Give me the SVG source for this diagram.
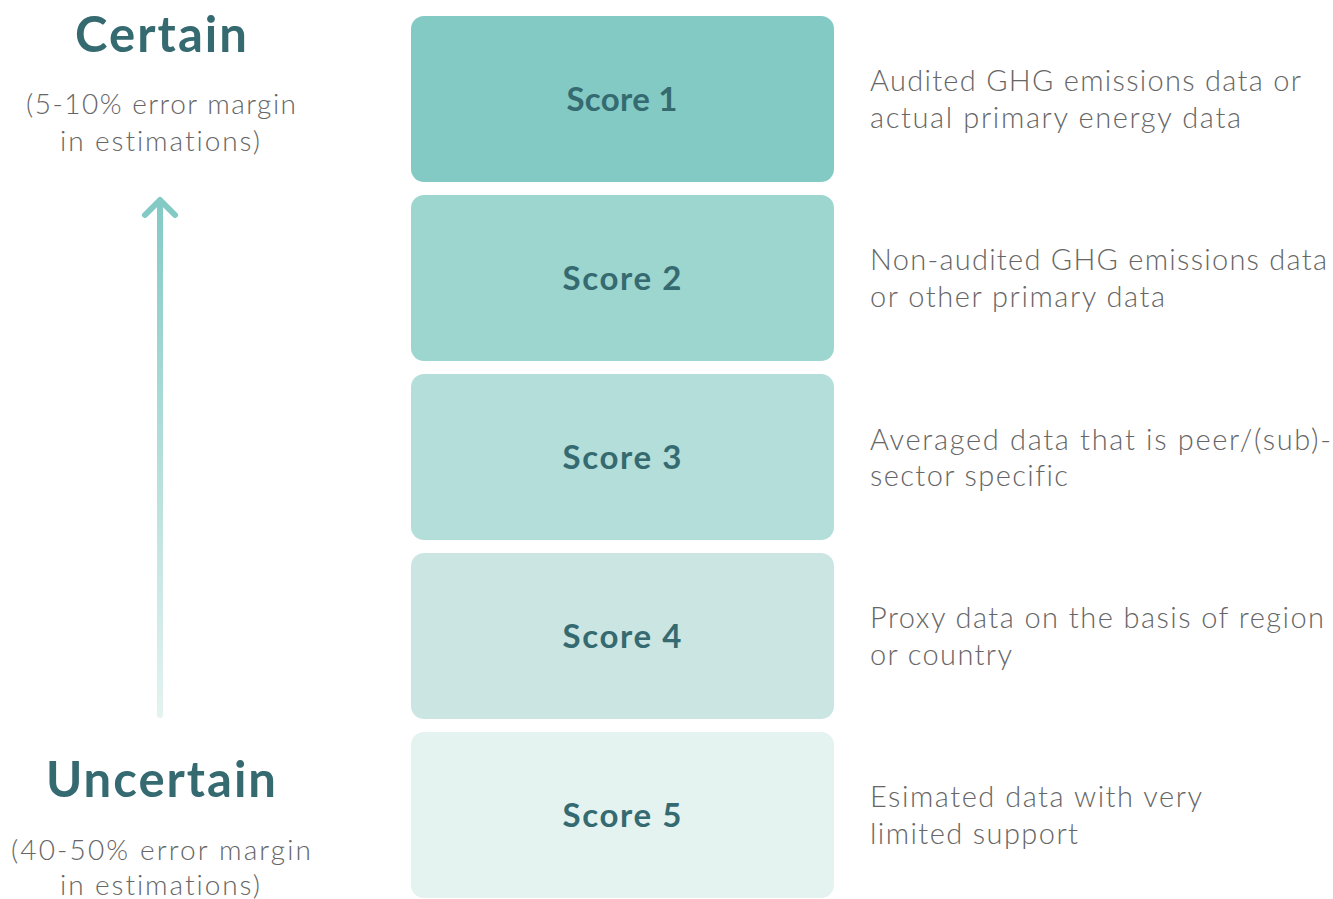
<svg xmlns="http://www.w3.org/2000/svg" width="1333" height="899" viewBox="0 0 1333 899">
<style>
text{font-variant-ligatures:none}
.box{stroke:none}
.score{font-family:Lato,"Noto Sans",sans-serif;font-weight:bold;font-size:33px;fill:#356a70;text-anchor:middle}
.desc{font-family:Lato,"Noto Sans",sans-serif;font-weight:300;font-size:29px;fill:#666}
.big{font-family:Lato,"Noto Sans",sans-serif;font-weight:bold;font-size:49px;fill:#356a70;text-anchor:middle}
.sub{font-family:Lato,"Noto Sans",sans-serif;font-weight:300;font-size:28px;fill:#666;text-anchor:middle}
</style>
<defs>
<linearGradient id="ag" x1="0" y1="0" x2="0" y2="1">
<stop offset="0" stop-color="#83cac5"/>
<stop offset="1" stop-color="#e4f3f0"/>
</linearGradient>
</defs>
<rect width="1333" height="899" fill="#fff"/>
<g id="certain">
<text class="big" x="161" y="52" textLength="172" lengthAdjust="spacing">Certain</text>
<text class="sub" x="161" y="114" textLength="270" lengthAdjust="spacing">(5-10% error margin</text>
<text class="sub" x="160" y="151" textLength="200" lengthAdjust="spacing">in estimations)</text>
</g>
<g id="uncertain">
<text class="big" x="161" y="797" textLength="230" lengthAdjust="spacing">Uncertain</text>
<text class="sub" x="161" y="860" textLength="300" lengthAdjust="spacing">(40-50% error margin</text>
<text class="sub" x="160" y="895" textLength="200" lengthAdjust="spacing">in estimations)</text>
</g>
<g id="connectors">
<rect x="157" y="199" width="6" height="519" rx="3" fill="url(#ag)"/>
<polyline points="145,215 160,200 175,215" fill="none" stroke="#83cac5" stroke-width="6" stroke-linecap="round" stroke-linejoin="round"/>
</g>
<g id="score1">
<rect class="box" x="411" y="16" width="423" height="166" rx="13" fill="#83cac5"/>
<text class="score" x="622" y="111" textLength="111" lengthAdjust="spacing">Score 1</text>
<text class="desc" x="870" y="91" textLength="431" lengthAdjust="spacing">Audited GHG emissions data or</text>
<text class="desc" x="870" y="128" textLength="371" lengthAdjust="spacing">actual primary energy data</text>
</g>
<g id="score2">
<rect class="box" x="411" y="195" width="423" height="166" rx="13" fill="#9dd5cf"/>
<text class="score" x="622" y="290" textLength="119" lengthAdjust="spacing">Score 2</text>
<text class="desc" x="870" y="270" textLength="457" lengthAdjust="spacing">Non-audited GHG emissions data</text>
<text class="desc" x="870" y="307" textLength="295" lengthAdjust="spacing">or other primary data</text>
</g>
<g id="score3">
<rect class="box" x="411" y="374" width="423" height="166" rx="13" fill="#b3ded9"/>
<text class="score" x="622" y="469" textLength="119" lengthAdjust="spacing">Score 3</text>
<text class="desc" x="870" y="450" textLength="461" lengthAdjust="spacing">Averaged data that is peer/(sub)-</text>
<text class="desc" x="870" y="486" textLength="198" lengthAdjust="spacing">sector specific</text>
</g>
<g id="score4">
<rect class="box" x="411" y="553" width="423" height="166" rx="13" fill="#cbe6e2"/>
<text class="score" x="622" y="648" textLength="119" lengthAdjust="spacing">Score 4</text>
<text class="desc" x="870" y="628" textLength="454" lengthAdjust="spacing">Proxy data on the basis of region</text>
<text class="desc" x="870" y="665" textLength="142" lengthAdjust="spacing">or country</text>
</g>
<g id="score5">
<rect class="box" x="411" y="732" width="423" height="166" rx="13" fill="#e4f3f0"/>
<text class="score" x="622" y="827" textLength="119" lengthAdjust="spacing">Score 5</text>
<text class="desc" x="870" y="807" textLength="332" lengthAdjust="spacing">Esimated data with very</text>
<text class="desc" x="870" y="844" textLength="208" lengthAdjust="spacing">limited support</text>
</g>
</svg>
